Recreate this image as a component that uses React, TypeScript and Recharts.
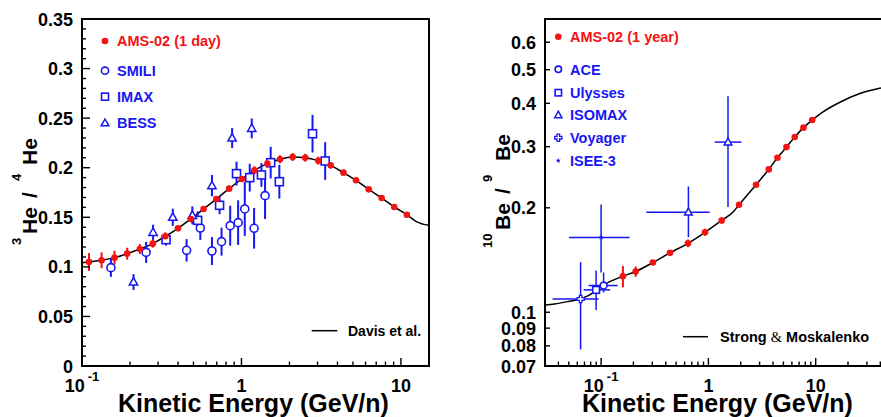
import {
  ComposedChart,
  ErrorBar,
  Line,
  ReferenceArea,
  Scatter,
  XAxis,
  YAxis,
} from 'recharts'

const FONT = '"Liberation Sans", Arial, Helvetica, sans-serif'
const RED = '#f21313'
const BLUE = '#1717f2'

// ---- 3He / 4He panel ----
const amsDayEnergy = [0.1106, 0.1327, 0.16, 0.192, 0.2305, 0.278, 0.333, 0.4, 0.482, 0.579, 0.695, 0.837, 1.005, 1.206, 1.454, 1.745, 2.094, 2.512, 3.03, 3.63, 4.36, 5.23, 6.28, 7.57, 9.08, 10.9]
const amsDayRatio = [0.1049, 0.1066, 0.1093, 0.1133, 0.118, 0.1234, 0.1308, 0.1389, 0.1483, 0.1584, 0.1684, 0.1789, 0.1886, 0.1974, 0.2041, 0.2085, 0.2108, 0.2101, 0.2071, 0.2024, 0.195, 0.1873, 0.1782, 0.1695, 0.1604, 0.1526]
const amsDayErr = [0.009, 0.008, 0.007, 0.006, 0.005, 0.004, 0.004, 0.003, 0.003, 0.003, 0.003, 0.003, 0.003, 0.004, 0.004, 0.004, 0.004, 0.004, 0.004, 0.003, 0, 0, 0, 0, 0, 0]

const smiliEnergy = [0.1518, 0.2524, 0.453, 0.552, 0.653, 0.75, 0.85, 0.953, 1.049, 1.2, 1.406]
const smiliRatio = [0.0992, 0.1146, 0.1167, 0.1392, 0.116, 0.1254, 0.1415, 0.1446, 0.1584, 0.1389, 0.1718]
const smiliErr = [0.0093, 0.0106, 0.0113, 0.012, 0.0141, 0.0141, 0.0202, 0.0225, 0.0272, 0.0205, 0.0235]

const imaxEnergy = [0.3366, 0.531, 0.729, 0.931, 1.127, 1.334, 1.525, 1.728, 2.79, 3.35]
const imaxRatio = [0.1274, 0.1469, 0.1621, 0.194, 0.19, 0.1927, 0.2051, 0.1859, 0.2343, 0.2068]
const imaxErr = [0.006, 0.009, 0.009, 0.012, 0.014, 0.012, 0.016, 0.017, 0.019, 0.019]

const bessEnergy = [0.2104, 0.279, 0.371, 0.492, 0.653, 0.874, 1.16]
const bessRatio = [0.0847, 0.1348, 0.15, 0.152, 0.1819, 0.23, 0.2397]
const bessErr = [0.008, 0.0077, 0.0087, 0.009, 0.0108, 0.01, 0.01]

const davisEnergy = [0.1, 0.1106, 0.1327, 0.16, 0.192, 0.2305, 0.278, 0.333, 0.4, 0.482, 0.579, 0.695, 0.837, 1.005, 1.206, 1.454, 1.745, 2.094, 2.512, 3.03, 3.63, 4.36, 5.23, 6.28, 7.57, 9.08, 10.9, 12.5, 15]
const davisRatio = [0.1042, 0.1049, 0.1066, 0.1093, 0.1133, 0.118, 0.1234, 0.1308, 0.1389, 0.1483, 0.1584, 0.1684, 0.1789, 0.1886, 0.1974, 0.2041, 0.2085, 0.2108, 0.2101, 0.2071, 0.2024, 0.195, 0.1873, 0.1782, 0.1695, 0.1604, 0.1526, 0.1457, 0.1419]

const heXTicks = [0.1, 0.2, 0.3, 0.4, 0.5, 0.6, 0.7, 0.8, 0.9, 1, 2, 3, 4, 5, 6, 7, 8, 9, 10]
const heYTicks = [0, 0.01, 0.02, 0.03, 0.04, 0.05, 0.06, 0.07, 0.08, 0.09, 0.1, 0.11, 0.12, 0.13, 0.14, 0.15, 0.16, 0.17, 0.18, 0.19, 0.2, 0.21, 0.22, 0.23, 0.24, 0.25, 0.26, 0.27, 0.28, 0.29, 0.3, 0.31, 0.32, 0.33, 0.34, 0.35]

// ---- 10Be / 9Be panel ----
const amsYearEnergy = [0.1597, 0.21, 0.304, 0.4385, 0.645, 0.93, 1.33, 1.93, 2.78, 3.65, 4.4, 5.34, 6.38, 7.69, 9.27]
const amsYearRatio = [0.127, 0.131, 0.1391, 0.1483, 0.158, 0.17, 0.1839, 0.204, 0.2331, 0.258, 0.2788, 0.2992, 0.3198, 0.3404, 0.358]
const amsYearErr = [0.009, 0.0045, 0.002, 0.002, 0.004, 0.004, 0.004, 0.003, 0, 0, 0, 0, 0, 0, 0]

const aceEnergy = [0.1055]
const aceRatio = [0.1194]
const aceEnergyRange = [[0.0764, 0.1425]]
const aceRatioRange = [[0.114, 0.1302]]

const ulyssesEnergy = [0.0898]
const ulyssesRatio = [0.116]
const ulyssesEnergyRange = [[0.0687, 0.1213]]
const ulyssesRatioRange = [[0.1015, 0.1319]]

const isomaxEnergy = [0.651, 1.523]
const isomaxRatio = [0.1943, 0.3093]
const isomaxEnergyRange = [[0.264, 1.028], [1.145, 2.03]]
const isomaxRatioRange = [[0.1646, 0.2305], [0.2009, 0.419]]

const voyagerEnergy = [0.0644]
const voyagerRatio = [0.1092]
const voyagerEnergyRange = [[0.0353, 0.0948]]
const voyagerRatioRange = [[0.0781, 0.1394]]

const iseeEnergy = [0.1]
const iseeRatio = [0.1643]
const iseeEnergyRange = [[0.0503, 0.1844]]
const iseeRatioRange = [[0.1302, 0.2045]]

const strongEnergy = [0.03, 0.0368, 0.0508, 0.0644, 0.0894, 0.105, 0.1597, 0.21, 0.304, 0.4385, 0.645, 0.93, 1.33, 1.7, 1.93, 2.78, 3.65, 4.4, 5.34, 6.38, 7.69, 9.27, 11.7, 16.8, 25.8, 40.5, 65, 100]
const strongRatio = [0.1049, 0.1057, 0.1076, 0.1092, 0.115, 0.1196, 0.127, 0.131, 0.1391, 0.1483, 0.158, 0.17, 0.1839, 0.1945, 0.204, 0.2331, 0.258, 0.2788, 0.2992, 0.3198, 0.3404, 0.358, 0.378, 0.403, 0.427, 0.443, 0.455, 0.462]

const beXTicks = [0.04, 0.05, 0.06, 0.07, 0.08, 0.09, 0.1, 0.2, 0.3, 0.4, 0.5, 0.6, 0.7, 0.8, 0.9, 1, 2, 3, 4, 5, 6, 7, 8, 9, 10, 20, 30, 40, 50, 60, 70, 80, 90]
const beYTicks = [0.07, 0.08, 0.09, 0.1, 0.2, 0.3, 0.4, 0.5, 0.6]

// layout
const PLOT_TOP = 19
const PLOT_BOTTOM = 366
const HE_LEFT = 82
const BE_LEFT = 105 // local to the right chart

const rows = (e: number[], r: number[], err: number[]) =>
  e.map((v, i) => ({ e: v, r: r[i], ey: err[i] }))

const rangeRows = (e: number[], r: number[], eRange: number[][], rRange: number[][]) =>
  e.map((v, i) => ({
    e: v,
    r: r[i],
    ex: [v - eRange[i][0], eRange[i][1] - v],
    ey: [r[i] - rRange[i][0], rRange[i][1] - r[i]],
  }))

const lineRows = (e: number[], r: number[]) => e.map((v, i) => ({ e: v, r: r[i] }))

const isDecade = (v: number) => Math.abs(Math.log10(v) - Math.round(Math.log10(v))) < 1e-6

// markers
type Mark = { cx?: number; cy?: number }
const RedDot = ({ cx = 0, cy = 0 }: Mark) => <circle cx={cx} cy={cy} r={3.3} fill={RED} />
const OpenCircle = ({ cx = 0, cy = 0, r = 4 }: Mark & { r?: number }) => (
  <circle cx={cx} cy={cy} r={r} fill="#fff" stroke={BLUE} strokeWidth={1.6} />
)
const OpenSquare = ({ cx = 0, cy = 0, s = 4 }: Mark & { s?: number }) => (
  <rect x={cx - s} y={cy - s} width={2 * s} height={2 * s} fill="#fff" stroke={BLUE} strokeWidth={1.6} />
)
const OpenTriangle = ({ cx = 0, cy = 0, s = 4.4 }: Mark & { s?: number }) => (
  <path
    d={`M${cx},${cy - s} L${cx + s * 0.95},${cy + s * 0.7} L${cx - s * 0.95},${cy + s * 0.7} Z`}
    fill="#fff"
    stroke={BLUE}
    strokeWidth={1.5}
  />
)
const OpenCross = ({ cx = 0, cy = 0 }: Mark) => {
  const s = 3.6
  const w = 1.3
  const d = `M${cx - w},${cy - s} L${cx + w},${cy - s} L${cx + w},${cy - w} L${cx + s},${cy - w} L${cx + s},${cy + w} L${cx + w},${cy + w} L${cx + w},${cy + s} L${cx - w},${cy + s} L${cx - w},${cy + w} L${cx - s},${cy + w} L${cx - s},${cy - w} L${cx - w},${cy - w} Z`
  return <path d={d} fill="#fff" stroke={BLUE} strokeWidth={1.3} />
}
const Star = ({ cx = 0, cy = 0 }: Mark) => {
  let d = ''
  for (let i = 0; i < 10; i++) {
    const rad = i % 2 ? 1.1 : 2.8
    const a = -Math.PI / 2 + (i * Math.PI) / 5
    d += `${i ? 'L' : 'M'}${(cx + rad * Math.cos(a)).toFixed(2)},${(cy + rad * Math.sin(a)).toFixed(2)} `
  }
  return <path d={d + 'Z'} fill={BLUE} />
}

// ticks drawn inside the frame, ROOT style
const xTick = (props: any) => {
  const { x, payload } = props
  const v = payload.value as number
  const major = isDecade(v)
  const len = major ? 8 : 4.5
  let label = null
  if (Math.abs(v - 0.1) < 1e-9) {
    label = (
      <text x={x} y={PLOT_BOTTOM + 26} textAnchor="middle" fontFamily={FONT} fontWeight="bold" fontSize={18} fill="#000">
        10
        <tspan dx={3} dy={-11} fontSize={13}>
          -1
        </tspan>
      </text>
    )
  } else if (major) {
    label = (
      <text x={x} y={PLOT_BOTTOM + 26} textAnchor="middle" fontFamily={FONT} fontWeight="bold" fontSize={18} fill="#000">
        {String(v)}
      </text>
    )
  }
  return (
    <g>
      <line x1={x} x2={x} y1={PLOT_BOTTOM} y2={PLOT_BOTTOM - len} stroke="#000" strokeWidth={1.4} />
      {label}
    </g>
  )
}

const makeYTick = (left: number, isMajor: (v: number) => boolean, majorLen: number, minorLen: number) => (props: any) => {
  const { y, payload } = props
  const v = payload.value as number
  const major = isMajor(v)
  return (
    <g>
      <line x1={left} x2={left + (major ? majorLen : minorLen)} y1={y} y2={y} stroke="#000" strokeWidth={1.4} />
      {major && (
        <text x={left - 9} y={y + 6.5} textAnchor="end" fontFamily={FONT} fontWeight="bold" fontSize={18} fill="#000">
          {String(v)}
        </text>
      )}
    </g>
  )
}

const heMajor = (v: number) => Math.round(v * 100) % 5 === 0

function HeChart() {
  return (
    <ComposedChart width={440} height={417} margin={{ top: PLOT_TOP, right: 11, bottom: 1, left: 2 }}>
      <XAxis
        dataKey="e"
        type="number"
        scale="log"
        domain={[0.1, 15]}
        allowDataOverflow
        ticks={heXTicks}
        interval={0}
        tick={xTick}
        tickLine={false}
        axisLine={false}
        height={50}
      />
      <YAxis
        dataKey="r"
        type="number"
        domain={[0, 0.35]}
        allowDataOverflow
        ticks={heYTicks}
        interval={0}
        tick={makeYTick(HE_LEFT, heMajor, 8, 4)}
        tickLine={false}
        axisLine={false}
        width={80}
      />
      <ReferenceArea x1={0.1} x2={15} y1={0} y2={0.35} fill="none" stroke="#000" strokeWidth={2} />
      <Line
        data={lineRows(davisEnergy, davisRatio)}
        dataKey="r"
        type="monotone"
        stroke="#000"
        strokeWidth={1.5}
        dot={false}
        isAnimationActive={false}
      />
      <Scatter data={rows(smiliEnergy, smiliRatio, smiliErr)} dataKey="r" shape={(p: any) => <OpenCircle cx={p.cx} cy={p.cy} />} isAnimationActive={false}>
        <ErrorBar dataKey="ey" direction="y" width={0} stroke={BLUE} strokeWidth={2} />
      </Scatter>
      <Scatter data={rows(imaxEnergy, imaxRatio, imaxErr)} dataKey="r" shape={(p: any) => <OpenSquare cx={p.cx} cy={p.cy} />} isAnimationActive={false}>
        <ErrorBar dataKey="ey" direction="y" width={0} stroke={BLUE} strokeWidth={2} />
      </Scatter>
      <Scatter data={rows(bessEnergy, bessRatio, bessErr)} dataKey="r" shape={(p: any) => <OpenTriangle cx={p.cx} cy={p.cy} />} isAnimationActive={false}>
        <ErrorBar dataKey="ey" direction="y" width={0} stroke={BLUE} strokeWidth={2} />
      </Scatter>
      <Scatter data={rows(amsDayEnergy, amsDayRatio, amsDayErr)} dataKey="r" shape={(p: any) => <RedDot cx={p.cx} cy={p.cy} />} isAnimationActive={false}>
        <ErrorBar dataKey="ey" direction="y" width={0} stroke={RED} strokeWidth={2} />
      </Scatter>
    </ComposedChart>
  )
}

function BeChart() {
  return (
    <ComposedChart width={500} height={417} margin={{ top: PLOT_TOP, right: 17, bottom: 1, left: 25 }}>
      <XAxis
        dataKey="e"
        type="number"
        scale="log"
        domain={[0.03, 100]}
        allowDataOverflow
        ticks={beXTicks}
        interval={0}
        tick={xTick}
        tickLine={false}
        axisLine={false}
        height={50}
      />
      <YAxis
        dataKey="r"
        type="number"
        scale="log"
        domain={[0.07, 0.7]}
        allowDataOverflow
        ticks={beYTicks}
        interval={0}
        tick={makeYTick(BE_LEFT, () => true, 5, 5)}
        tickLine={false}
        axisLine={false}
        width={80}
      />
      <ReferenceArea x1={0.03} x2={100} y1={0.07} y2={0.7} fill="none" stroke="#000" strokeWidth={2} />
      <Line
        data={lineRows(strongEnergy, strongRatio)}
        dataKey="r"
        type="monotone"
        stroke="#000"
        strokeWidth={1.5}
        dot={false}
        isAnimationActive={false}
      />
      <Scatter data={rangeRows(iseeEnergy, iseeRatio, iseeEnergyRange, iseeRatioRange)} dataKey="r" shape={(p: any) => <Star cx={p.cx} cy={p.cy} />} isAnimationActive={false}>
        <ErrorBar dataKey="ex" direction="x" width={0} stroke={BLUE} strokeWidth={1.5} />
        <ErrorBar dataKey="ey" direction="y" width={0} stroke={BLUE} strokeWidth={1.5} />
      </Scatter>
      <Scatter data={rangeRows(voyagerEnergy, voyagerRatio, voyagerEnergyRange, voyagerRatioRange)} dataKey="r" shape={(p: any) => <OpenCross cx={p.cx} cy={p.cy} />} isAnimationActive={false}>
        <ErrorBar dataKey="ex" direction="x" width={0} stroke={BLUE} strokeWidth={1.5} />
        <ErrorBar dataKey="ey" direction="y" width={0} stroke={BLUE} strokeWidth={1.5} />
      </Scatter>
      <Scatter data={rangeRows(ulyssesEnergy, ulyssesRatio, ulyssesEnergyRange, ulyssesRatioRange)} dataKey="r" shape={(p: any) => <OpenSquare cx={p.cx} cy={p.cy} s={3.4} />} isAnimationActive={false}>
        <ErrorBar dataKey="ex" direction="x" width={0} stroke={BLUE} strokeWidth={1.5} />
        <ErrorBar dataKey="ey" direction="y" width={0} stroke={BLUE} strokeWidth={1.5} />
      </Scatter>
      <Scatter data={rangeRows(aceEnergy, aceRatio, aceEnergyRange, aceRatioRange)} dataKey="r" shape={(p: any) => <OpenCircle cx={p.cx} cy={p.cy} r={3.4} />} isAnimationActive={false}>
        <ErrorBar dataKey="ex" direction="x" width={0} stroke={BLUE} strokeWidth={1.5} />
        <ErrorBar dataKey="ey" direction="y" width={0} stroke={BLUE} strokeWidth={1.5} />
      </Scatter>
      <Scatter data={rangeRows(isomaxEnergy, isomaxRatio, isomaxEnergyRange, isomaxRatioRange)} dataKey="r" shape={(p: any) => <OpenTriangle cx={p.cx} cy={p.cy} s={4} />} isAnimationActive={false}>
        <ErrorBar dataKey="ex" direction="x" width={0} stroke={BLUE} strokeWidth={1.5} />
        <ErrorBar dataKey="ey" direction="y" width={0} stroke={BLUE} strokeWidth={1.5} />
      </Scatter>
      <Scatter data={rows(amsYearEnergy, amsYearRatio, amsYearErr)} dataKey="r" shape={(p: any) => <RedDot cx={p.cx} cy={p.cy} />} isAnimationActive={false}>
        <ErrorBar dataKey="ey" direction="y" width={0} stroke={RED} strokeWidth={2} />
      </Scatter>
    </ComposedChart>
  )
}

const legendText = { fontFamily: FONT, fontWeight: 'bold' as const, fontSize: 14.5 }

function Overlay() {
  return (
    <svg width={881} height={417} style={{ position: 'absolute', left: 0, top: 0, pointerEvents: 'none' }}>
      {/* left panel legend */}
      <RedDot cx={105} cy={41} />
      <text x={117} y={46} fill={RED} {...legendText}>AMS-02 (1 day)</text>
      <OpenCircle cx={105} cy={70.7} r={3.6} />
      <text x={117} y={76} fill={BLUE} {...legendText}>SMILI</text>
      <OpenSquare cx={105} cy={96.7} s={3.5} />
      <text x={117} y={102} fill={BLUE} {...legendText}>IMAX</text>
      <OpenTriangle cx={105} cy={123} s={4} />
      <text x={117} y={128.3} fill={BLUE} {...legendText}>BESS</text>
      <line x1={311.7} x2={337.3} y1={330.7} y2={330.7} stroke="#000" strokeWidth={1.5} />
      <text x={348} y={336} fill="#000" {...legendText} fontSize={14}>Davis et al.</text>

      {/* right panel legend */}
      <RedDot cx={558.3} cy={36.7} />
      <text x={570} y={42} fill={RED} {...legendText}>AMS-02 (1 year)</text>
      <OpenCircle cx={558.3} cy={69.3} r={3.2} />
      <text x={570} y={74.6} fill={BLUE} {...legendText}>ACE</text>
      <OpenSquare cx={558.3} cy={92.7} s={3.2} />
      <text x={570} y={98} fill={BLUE} {...legendText}>Ulysses</text>
      <OpenTriangle cx={558.3} cy={115} s={3.8} />
      <text x={570} y={120.3} fill={BLUE} {...legendText}>ISOMAX</text>
      <OpenCross cx={558.3} cy={137.7} />
      <text x={570} y={143} fill={BLUE} {...legendText}>Voyager</text>
      <Star cx={558.3} cy={160.7} />
      <text x={570} y={166} fill={BLUE} {...legendText}>ISEE-3</text>
      <line x1={683} x2={708} y1={336.7} y2={336.7} stroke="#000" strokeWidth={1.5} />
      <text x={720} y={342} fill="#000" {...legendText}>
        Strong{' '}
        <tspan fontFamily='"Liberation Serif", "Times New Roman", serif' fontWeight="normal">&amp;</tspan> Moskalenko
      </text>

      {/* axis titles */}
      <text x={118} y={412} fontFamily={FONT} fontWeight="bold" fontSize={25} fill="#000">
        Kinetic Energy (GeV/n)
      </text>
      <text x={582} y={412} fontFamily={FONT} fontWeight="bold" fontSize={25} fill="#000">
        Kinetic Energy (GeV/n)
      </text>
      <text transform="translate(37,246) rotate(-90)" fontFamily={FONT} fontWeight="bold" fontSize={21} fill="#000">
        <tspan x={1} y={-16} fontSize={13}>3</tspan>
        <tspan x={12} y={0}>He</tspan>
        <tspan x={48} y={0}>/</tspan>
        <tspan x={65} y={-16} fontSize={13}>4</tspan>
        <tspan x={81} y={0}>He</tspan>
      </text>
      <text transform="translate(510,249) rotate(-90)" fontFamily={FONT} fontWeight="bold" fontSize={21} fill="#000">
        <tspan x={1} y={-18} fontSize={13}>10</tspan>
        <tspan x={19} y={0}>Be</tspan>
        <tspan x={55} y={0}>/</tspan>
        <tspan x={67} y={-18} fontSize={13}>9</tspan>
        <tspan x={88} y={0}>Be</tspan>
      </text>
    </svg>
  )
}

export default function App() {
  return (
    <div style={{ position: 'absolute', left: 0, top: 0, width: 881, height: 417, overflow: 'hidden', background: '#fff' }}>
      <div style={{ position: 'absolute', left: 0, top: 0 }}>
        <HeChart />
      </div>
      <div style={{ position: 'absolute', left: 440, top: 0 }}>
        <BeChart />
      </div>
      <Overlay />
    </div>
  )
}
